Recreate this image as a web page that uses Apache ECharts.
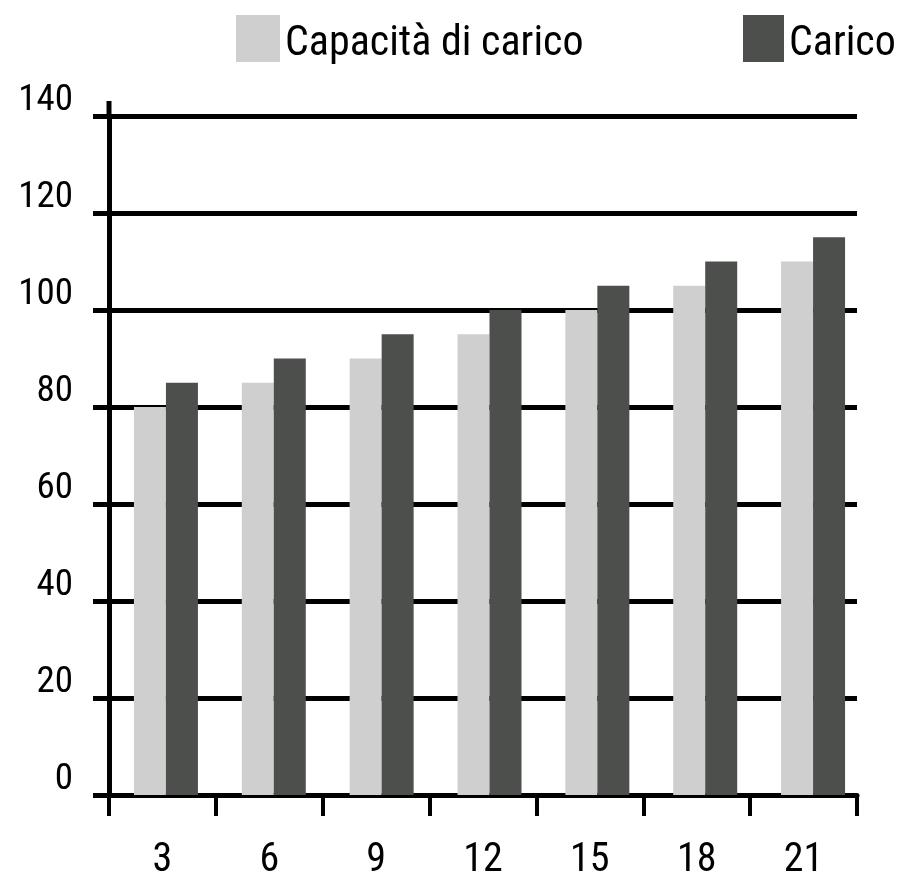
<!DOCTYPE html>
<html>
<head>
<meta charset="utf-8">
<script src="https://cdn.jsdelivr.net/npm/echarts@6/dist/echarts.min.js"></script>
<style>
  html, body { margin: 0; padding: 0; background: #ffffff; }
  #chart { width: 899px; height: 876px; }
</style>
</head>
<body>
<div id="chart"></div>
<script>
// Categories on the horizontal axis
const categories = ['3', '6', '9', '12', '15', '18', '21'];
// Series values
const capacitaValues = [80, 85, 90, 95, 100, 105, 110];
const caricoValues = [85, 90, 95, 100, 105, 110, 115];
// Series names
const seriesNames = ['Capacità di carico', 'Carico'];

const FONT = "'Roboto Condensed', 'DejaVu Sans Condensed', sans-serif";
const LIGHT = '#cfcfcf';
const DARK = '#4d4f4c';
const Y_MIN = 0, Y_MAX = 140, Y_STEP = 20;

const chart = echarts.init(document.getElementById('chart'), null, { renderer: 'canvas' });

// legend text sits slightly below the centre of its swatch
const legendText = {
  fontFamily: FONT, fontSize: 42, color: '#000',
  rich: { t: { fontFamily: FONT, fontSize: 42, color: '#000', padding: [11, 0, 0, 0] } }
};

const option = {
  backgroundColor: '#ffffff',
  animation: false,
  legend: [
    {
      data: [seriesNames[0]],
      left: 231, top: 10,
      icon: 'rect', itemWidth: 44, itemHeight: 47, itemGap: 0,
      formatter: '{t|{name}}',
      textStyle: legendText
    },
    {
      data: [seriesNames[1]],
      left: 738, top: 10,
      icon: 'rect', itemWidth: 41, itemHeight: 47, itemGap: 0,
      formatter: '{t|{name}}',
      textStyle: legendText
    }
  ],
  grid: [
    // frame: axes, ticks and grid lines
    { left: 109, right: 42, top: 116, bottom: 81, containLabel: false, outerBoundsMode: 'none' },
    // bar placement, same vertical scale as the frame
    { left: 112, right: 32, top: 116, bottom: 81, containLabel: false, outerBoundsMode: 'none' }
  ],
  xAxis: [
    {
      type: 'category', gridIndex: 0,
      data: categories,
      boundaryGap: true,
      axisLine: { lineStyle: { color: '#000', width: 5 } },
      axisTick: { show: true, length: 21, lineStyle: { color: '#000', width: 4 } },
      axisLabel: { fontFamily: FONT, fontSize: 40, color: '#000', margin: 46 },
      splitLine: { show: false }
    },
    {
      type: 'category', gridIndex: 1,
      data: categories,
      show: false
    }
  ],
  yAxis: [
    {
      type: 'value', gridIndex: 0,
      min: Y_MIN, max: Y_MAX, interval: Y_STEP,
      axisLine: { show: true, lineStyle: { color: '#000', width: 5 } },
      axisTick: { show: true, length: 16, lineStyle: { color: '#000', width: 5 } },
      axisLabel: {
        margin: 36,
        formatter: '{v|{value}}',
        rich: { v: { fontFamily: FONT, fontSize: 37, color: '#000', padding: [0, 0, 30, 0] } }
      },
      splitLine: { show: true, lineStyle: { color: '#000', width: 5 } }
    },
    {
      type: 'value', gridIndex: 1,
      min: Y_MIN, max: Y_MAX, interval: Y_STEP,
      show: false, splitLine: { show: false }
    }
  ],
  series: [
    {
      name: seriesNames[0], type: 'bar', data: capacitaValues,
      xAxisIndex: 1, yAxisIndex: 1,
      barWidth: 32, barGap: '0%',
      itemStyle: { color: LIGHT }, z: 3
    },
    {
      name: seriesNames[1], type: 'bar', data: caricoValues,
      xAxisIndex: 1, yAxisIndex: 1,
      barWidth: 32, barGap: '0%',
      itemStyle: { color: DARK }, z: 3
    }
  ]
};

chart.setOption(option);

// Short extension of the vertical axis above the top grid line
const topPt = chart.convertToPixel({ xAxisIndex: 0, yAxisIndex: 0 }, [0, Y_MAX]);
const leftX = chart.getModel().getComponent('grid', 0).coordinateSystem.getRect().x;
chart.setOption({
  graphic: [{
    type: 'line',
    shape: { x1: leftX, y1: topPt[1] - 15, x2: leftX, y2: topPt[1] },
    style: { stroke: '#000', lineWidth: 5 },
    z: 10
  }]
});
</script>
</body>
</html>
